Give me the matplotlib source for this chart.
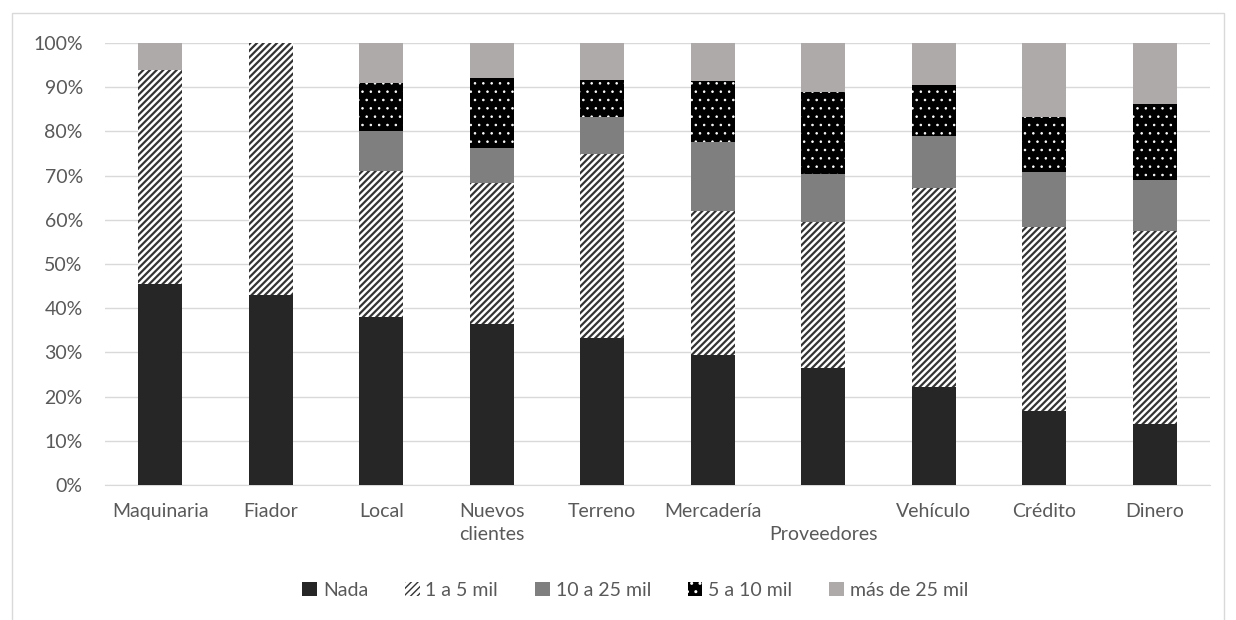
import numpy as np
import matplotlib
matplotlib.use('Agg')
import matplotlib.pyplot as plt
from matplotlib.patches import Rectangle, Patch
from matplotlib.ticker import PercentFormatter

categories = ['Maquinaria', 'Fiador', 'Local', 'Nuevos\nclientes', 'Terreno',
              'Mercadería', '\nProveedores', 'Vehículo', 'Crédito', 'Dinero']

# shares per category (%), stacked bottom to top
nada      = [45.5, 42.9, 38.0, 36.5, 33.3, 29.3, 26.4, 22.2, 16.7, 13.8]
mil_1_5   = [48.5, 57.1, 33.0, 31.8, 41.7, 32.8, 33.0, 44.9, 41.6, 43.6]
mil_10_25 = [0.0,  0.0,  9.0,  7.9,  8.3, 15.5, 11.0, 11.8, 12.5, 11.6]
mil_5_10  = [0.0,  0.0, 11.0, 15.8,  8.4, 13.8, 18.5, 11.6, 12.5, 17.2]
mas_25    = [6.0,  0.0,  9.0,  8.0,  8.3,  8.6, 11.1,  9.5, 16.7, 13.8]

# (label, values, style, hatch line width)
series = [
    ('Nada',           nada,      dict(color='#262626'), 1.0),
    ('1 a 5 mil',      mil_1_5,   dict(facecolor='white', edgecolor='#333333', hatch='/////'), 1.6),
    ('10 a 25 mil',    mil_10_25, dict(color='#7f7f7f'), 1.0),
    ('5 a 10 mil',     mil_5_10,  dict(facecolor='black', edgecolor='white', hatch='..'), 0.6),
    ('más de 25 mil',  mas_25,    dict(color='#aeaaaa'), 1.0),
]

plt.rcParams['font.family'] = ['Lato', 'DejaVu Sans']

fig = plt.figure(figsize=(12.36, 6.2), dpi=100)
ax = fig.add_axes([105 / 1236, 1 - 485 / 620, 1105 / 1236, 442 / 620])

x = np.arange(len(categories))
bottom = np.zeros(len(categories))
handles = []
for name, vals, style, hlw in series:
    plt.rcParams['hatch.linewidth'] = hlw
    vals = np.array(vals)
    ax.bar(x, vals, 0.4, bottom=bottom, linewidth=0, zorder=3, **style)
    bottom += vals
    handles.append(Patch(linewidth=0, label=name, **style))

ax.set_xlim(-0.5, len(categories) - 0.5)
ax.set_ylim(0, 100)
ax.set_yticks(np.arange(0, 101, 10))
ax.yaxis.set_major_formatter(PercentFormatter(decimals=0))
ax.set_xticks(x)
ax.set_xticklabels(categories, linespacing=1.45)
ax.grid(axis='y', color='#d9d9d9', linewidth=1, zorder=0)
for s in ['top', 'right', 'left']:
    ax.spines[s].set_visible(False)
ax.spines['bottom'].set_color('#d9d9d9')
ax.tick_params(axis='both', length=0, labelsize=14, colors='#595959')
ax.tick_params(axis='x', pad=13)
ax.tick_params(axis='y', pad=16)

leg = fig.legend(handles=handles, loc='center', bbox_to_anchor=(0.514, 1 - 590 / 620),
                 ncol=5, frameon=False, fontsize=14, handlelength=0.75,
                 handleheight=0.75, handletextpad=0.3, columnspacing=1.9)
for t in leg.get_texts():
    t.set_color('#595959')

# outer chart frame
fig.patches.append(Rectangle((12 / 1236, -0.01), 1212 / 1236, 1 - 13 / 620 + 0.01,
                             transform=fig.transFigure, fill=False,
                             edgecolor='#d9d9d9', linewidth=1))

fig.savefig('out.png', dpi=100)
